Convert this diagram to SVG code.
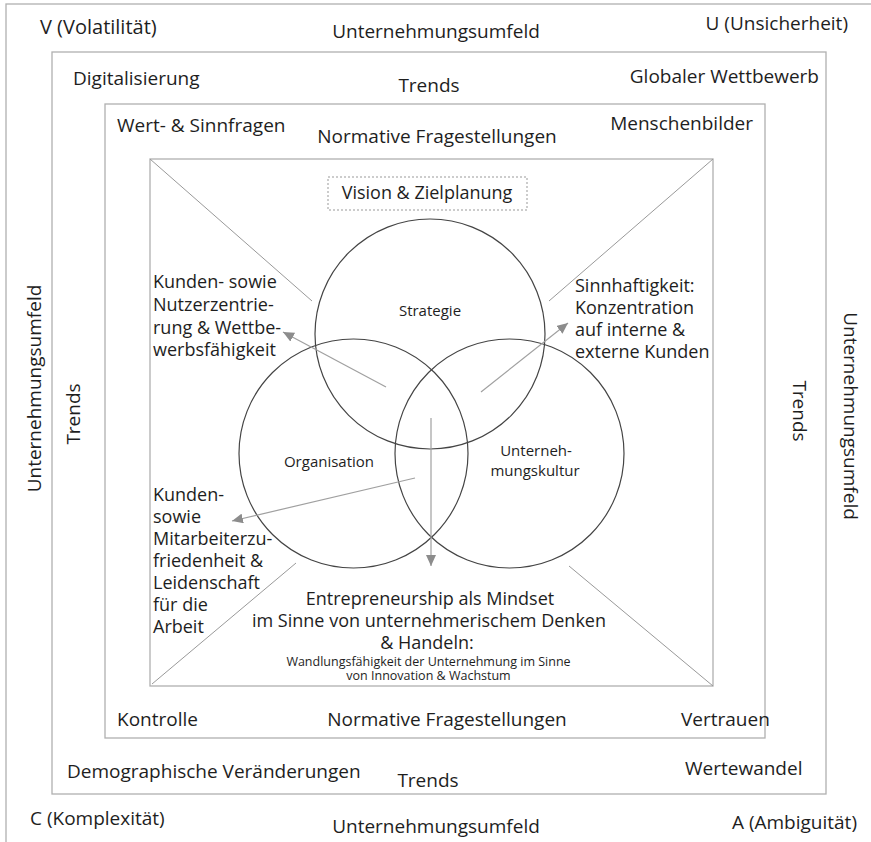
<svg xmlns="http://www.w3.org/2000/svg" width="871" height="842" viewBox="0 0 871 842">
<style>
text{font-family:"Open Sans","Noto Sans","Liberation Sans",sans-serif;fill:#1e1e1e}
.o{font-size:19px}
.m{font-size:18px}
.c{font-size:15px}
.s{font-size:12.5px}
.mid{text-anchor:middle}
.end{text-anchor:end}
.frame{fill:none;stroke:#b0b0b0;stroke-width:1.3}
.circ{fill:none;stroke:#444;stroke-width:1.2}
.diag{stroke:#999;stroke-width:1}
.arr{stroke:#a0a0a0;stroke-width:1.2;fill:none;marker-end:url(#ah)}
</style>
<defs>
<marker id="ah" markerUnits="userSpaceOnUse" markerWidth="11" markerHeight="10" refX="11" refY="5" orient="auto">
<path d="M0,0 L11,5 L0,10 z" fill="#8c8c8c"/>
</marker>
</defs>
<rect width="871" height="842" fill="#fff"/>

<g id="frame-umfeld">
<rect class="frame" x="6" y="4" width="890" height="860"/>
<text class="o" x="40" y="34" style="font-size:20px">V (Volatilität)</text>
<text class="o mid" x="436" y="38">Unternehmungsumfeld</text>
<text class="o end" x="848" y="30">U (Unsicherheit)</text>
<text class="o" transform="translate(41,388.5) rotate(-90)" text-anchor="middle">Unternehmungsumfeld</text>
<text class="o" transform="translate(844,416) rotate(90)" text-anchor="middle">Unternehmungsumfeld</text>
<text class="o" x="30" y="825">C (Komplexität)</text>
<text class="o mid" x="436" y="833">Unternehmungsumfeld</text>
<text class="o end" x="857" y="829">A (Ambiguität)</text>
</g>

<g id="frame-trends">
<rect class="frame" x="52" y="52" width="774" height="742"/>
<text class="o" x="73" y="85">Digitalisierung</text>
<text class="o mid" x="429" y="92">Trends</text>
<text class="o end" x="819" y="83">Globaler Wettbewerb</text>
<text class="o" transform="translate(80,414) rotate(-90)" text-anchor="middle">Trends</text>
<text class="o" transform="translate(793,411) rotate(90)" text-anchor="middle">Trends</text>
<text class="o" x="67" y="778">Demographische Veränderungen</text>
<text class="o mid" x="428" y="787">Trends</text>
<text class="o" x="685" y="775">Wertewandel</text>
</g>

<g id="frame-normativ">
<rect class="frame" x="105" y="104" width="660" height="634"/>
<text class="o" x="117" y="132">Wert- &amp; Sinnfragen</text>
<text class="o mid" x="437" y="143">Normative Fragestellungen</text>
<text class="o end" x="753" y="130">Menschenbilder</text>
<text class="o" x="117" y="726">Kontrolle</text>
<text class="o mid" x="447" y="726">Normative Fragestellungen</text>
<text class="o" x="681" y="726">Vertrauen</text>
</g>

<g id="frame-inner">
<rect class="frame" x="150" y="159" width="563" height="527"/>
</g>

<g id="vision">
<rect x="328" y="177" width="199" height="33" fill="none" stroke="#999" stroke-width="1" stroke-dasharray="2,2"/>
<text class="m mid" x="427" y="199">Vision &amp; Zielplanung</text>
</g>

<g id="strategie">
<circle class="circ" cx="430" cy="334" r="115"/>
<text class="c mid" x="430" y="316">Strategie</text>
</g>

<g id="organisation">
<circle class="circ" cx="353.5" cy="453.5" r="114.5"/>
<text class="c mid" x="329" y="467">Organisation</text>
</g>

<g id="unternehmungskultur">
<circle class="circ" cx="509.5" cy="453.5" r="114.5"/>
<text class="c mid" x="536" y="456">Unterneh-</text>
<text class="c mid" x="535" y="476">mungskultur</text>
</g>

<g id="kundenzentrierung">
<text class="m" x="153" y="288">Kunden- sowie</text>
<text class="m" x="153" y="311">Nutzerzentrie-</text>
<text class="m" x="153" y="334">rung &amp; Wettbe-</text>
<text class="m" x="153" y="356">werbsfähigkeit</text>
</g>

<g id="sinnhaftigkeit">
<text class="m" x="575" y="292">Sinnhaftigkeit:</text>
<text class="m" x="575" y="314">Konzentration</text>
<text class="m" x="575" y="336">auf interne &amp;</text>
<text class="m" x="575" y="358">externe Kunden</text>
</g>

<g id="zufriedenheit">
<text class="m" x="153" y="501">Kunden-</text>
<text class="m" x="153" y="523">sowie</text>
<text class="m" x="153" y="545">Mitarbeiterzu-</text>
<text class="m" x="153" y="567">friedenheit &amp;</text>
<text class="m" x="153" y="589">Leidenschaft</text>
<text class="m" x="153" y="611">für die</text>
<text class="m" x="153" y="633">Arbeit</text>
</g>

<g id="entrepreneurship">
<text class="m mid" x="430" y="605">Entrepreneurship als Mindset</text>
<text class="m mid" x="429" y="627">im Sinne von unternehmerischem Denken</text>
<text class="m mid" x="427" y="649">&amp; Handeln:</text>
<text class="s mid" x="428.5" y="666">Wandlungsfähigkeit der Unternehmung im Sinne</text>
<text class="s mid" x="428.5" y="680">von Innovation &amp; Wachstum</text>
</g>

<g id="connectors">
<line class="diag" x1="150" y1="159" x2="312" y2="301"/>
<line class="diag" x1="713" y1="159" x2="549" y2="301"/>
<line class="diag" x1="152" y1="684" x2="296" y2="563"/>
<line class="diag" x1="569" y1="566" x2="713" y2="686"/>
<line class="arr" x1="386" y1="387" x2="283" y2="332"/>
<line class="arr" x1="481" y1="392" x2="568" y2="323"/>
<line class="arr" x1="431" y1="418" x2="431" y2="566"/>
<line class="arr" x1="415" y1="478" x2="232" y2="521"/>
</g>
</svg>
